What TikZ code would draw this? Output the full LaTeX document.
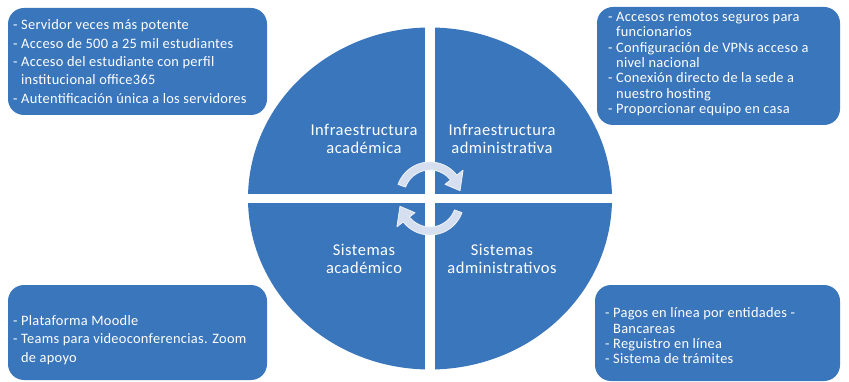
\documentclass[tikz,border=0pt]{standalone}
\usepackage{fontspec}
\setmainfont{Carlito}

\definecolor{azul}{RGB}{58,118,188}
\definecolor{giro}{RGB}{214,223,240}
\definecolor{borde}{RGB}{238,242,250}

\tikzset{
  caja/.style = {fill = azul, rounded corners = 16pt, inner sep = 0pt},
  lista/.style = {text = white, align = left, inner sep = 0pt, anchor = west, font = \fontsize{14.4}{18.3}\selectfont\addfontfeature{LetterSpace = 2}},
  listajunta/.style = {lista, font = \fontsize{14.4}{15.3}\selectfont\addfontfeature{LetterSpace = 2}},
  etiqueta/.style = {text = white, align = center, inner sep = 0pt, font = \fontsize{16.5}{17.5}\selectfont\addfontfeature{LetterSpace = 3}},
  curva/.style = {fill = giro, draw = borde, line width = 0.8pt, line join = round}
}

\newcommand\sangria{\phantom{- }}

\begin{document}
\begin{tikzpicture}[x = 1pt, y = -1pt]
\useasboundingbox (0, 0) rectangle (849, 382);
% Circle in four parts
\fill[azul] (430, 198.5) ellipse [x radius = 182, y radius = 171];
\fill[white] (424.5, 20) rectangle (435, 378);
\fill[white] (240, 194) rectangle (620, 203);
% Turning arrows
\begin{scope}[shift = {(430, 196)}]
\filldraw[curva] plot[domain = 200:322, samples = 30] ({34*cos(\x)}, {34*sin(\x)}) -- (322:42) -- (350:30.5) -- (322:19) -- plot[domain = 322:200, samples = 30] ({26*cos(\x)}, {26*sin(\x)}) -- cycle;
\end{scope}
\begin{scope}[shift = {(430, 201)}, rotate = 180]
\filldraw[curva] plot[domain = 200:322, samples = 30] ({34*cos(\x)}, {34*sin(\x)}) -- (322:42) -- (350:30.5) -- (322:19) -- plot[domain = 322:200, samples = 30] ({26*cos(\x)}, {26*sin(\x)}) -- cycle;
\end{scope}
% Quadrant labels
\node[etiqueta] (infacad) at (364, 139) {Infraestructura\\académica};
\node[etiqueta] (infadm) at (502, 139) {Infraestructura\\administrativa};
\node[etiqueta] (sisacad) at (364, 259) {Sistemas\\académico};
\node[etiqueta] (sisadm) at (502, 259) {Sistemas\\administrativos};
% Corner boxes
\node[caja, minimum width = 259pt, minimum height = 107pt] (cajaia) at (137.5, 61.5) {};
\node[caja, minimum width = 243pt, minimum height = 118pt] (cajaiad) at (718.5, 66) {};
\node[caja, minimum width = 259pt, minimum height = 95pt] (cajasa) at (137.5, 332.5) {};
\node[caja, minimum width = 245pt, minimum height = 96pt] (cajasad) at (717.5, 333) {};
% Box texts
\node[lista] (textoia) at (13, 61.5) {- Servidor veces más potente\\- Acceso de 500 a 25 mil estudiantes\\- Acceso del estudiante con perfil\\\sangria institucional office365\\- Autentificación única a los servidores};
\node[listajunta] (textoiad) at (608, 64) {- Accesos remotos seguros para\\\sangria funcionarios\\- Configuración de VPNs acceso a\\\sangria nivel nacional\\- Conexión directo de la sede a\\\sangria nuestro hosting\\- Proporcionar equipo en casa};
\node[lista] (textosa) at (13, 340) {- Plataforma Moodle\\- Teams para videoconferencias. Zoom\\\sangria de apoyo};
\node[listajunta] (textosad) at (605, 336) {- Pagos en línea por entidades -\\\sangria Bancareas\\- Reguistro en línea\\- Sistema de trámites};
\end{tikzpicture}
\end{document}
